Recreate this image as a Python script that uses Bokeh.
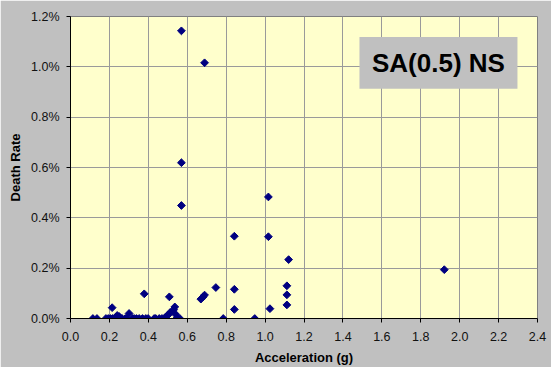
import math
from bokeh.plotting import figure
from bokeh.models import NumeralTickFormatter, FixedTicker, Range1d, Label, BoxAnnotation
from bokeh.embed import file_html
from bokeh.resources import INLINE

# Acceleration (g)
accel = [0.570, 0.689, 0.570, 0.570, 1.017, 0.842, 1.017, 1.121, 1.921,
         1.112, 1.112, 1.112, 1.025, 0.842, 0.842, 0.747, 0.670, 0.680, 0.689,
         0.379, 0.508, 0.214, 0.536, 0.530, 0.540, 0.512, 0.500, 0.487, 0.301,
         0.240, 0.250, 0.232,
         0.115, 0.136, 0.182, 0.194, 0.205, 0.216, 0.226, 0.247, 0.258, 0.265,
         0.282, 0.290, 0.319, 0.327, 0.339, 0.353, 0.370, 0.387, 0.399, 0.430,
         0.438, 0.456, 0.470, 0.545, 0.550, 0.562, 0.785, 0.947]
# Death rate (fraction)
death_rate = [0.01143, 0.01016, 0.00619, 0.00449, 0.00483, 0.00327, 0.00325, 0.00234, 0.00194,
              0.00130, 0.00094, 0.00054, 0.00039, 0.00116, 0.00036, 0.00123, 0.00077, 0.00085, 0.00093,
              0.00098, 0.00086, 0.00043, 0.00046, 0.00035, 0.00017, 0.00024, 0.00013, 0.00005, 0.00020,
              0.00012, 0.00008, 0.00005,
              0, 0, 0, 0, 0, 0, 0, 0, 0, 0,
              0, 0, 0, 0, 0, 0, 0, 0, 0, 0,
              0, 0, 0, 0, 0, 0, 0, 0]

x_ticks = [0.0, 0.2, 0.4, 0.6, 0.8, 1.0, 1.2, 1.4, 1.6, 1.8, 2.0, 2.2, 2.4]
y_ticks = [0.0, 0.002, 0.004, 0.006, 0.008, 0.010, 0.012]
series_label = "SA(0.5) NS"

FONT = "Liberation Sans"

p = figure(width=551, height=367, output_backend="svg", toolbar_location=None,
           x_range=Range1d(0, 2.4), y_range=Range1d(0, 0.012),
           min_border_left=70, min_border_right=14, min_border_top=16, min_border_bottom=49)
p.border_fill_color = "#C0C0C0"
p.background_fill_color = "#FFFFCC"
p.outline_line_color = "#808080"
p.outline_line_width = 1

p.xgrid.ticker = FixedTicker(ticks=x_ticks)
p.ygrid.ticker = FixedTicker(ticks=y_ticks)
p.grid.grid_line_color = "#9A9A9A"
p.grid.grid_line_width = 1

for ax in (p.xaxis[0], p.yaxis[0]):
    ax.axis_line_color = "#000000"
    ax.axis_line_width = 1
    ax.major_tick_line_color = "#000000"
    ax.major_tick_out = 4
    ax.major_tick_in = 0
    ax.minor_tick_line_color = None
    ax.major_label_text_font = FONT
    ax.major_label_text_font_size = "12.5px"
    ax.major_label_text_color = "#111111"
    ax.axis_label_text_font = FONT
    ax.axis_label_text_font_size = "13px"
    ax.axis_label_text_font_style = "bold"
    ax.axis_label_text_color = "#000000"

p.xaxis.ticker = FixedTicker(ticks=x_ticks)
p.yaxis.ticker = FixedTicker(ticks=y_ticks)
p.xaxis.formatter = NumeralTickFormatter(format="0.0")
p.yaxis.formatter = NumeralTickFormatter(format="0.0%")
p.xaxis.axis_label = "Acceleration (g)"
p.yaxis.axis_label = "Death Rate"
p.xaxis.major_label_standoff = 9
p.xaxis.axis_label_standoff = 6
p.yaxis.major_label_standoff = 7
p.yaxis.axis_label_standoff = 5

p.scatter(accel, death_rate, marker="square", angle=math.pi / 4, size=5.5,
          fill_color="#000080", line_color="#000080")

box = BoxAnnotation(left=1.485, right=2.297, bottom=0.00913, top=0.01119,
                    fill_color="#C0C0C0", fill_alpha=1.0, line_color=None)
p.add_layout(box)
p.add_layout(Label(x=1.891, y=0.01016, text=series_label, text_align="center",
                   text_baseline="middle", text_font=FONT, text_font_size="26px",
                   text_font_style="bold", text_color="#000000"))

open("out.html", "w").write(file_html(p, INLINE))
